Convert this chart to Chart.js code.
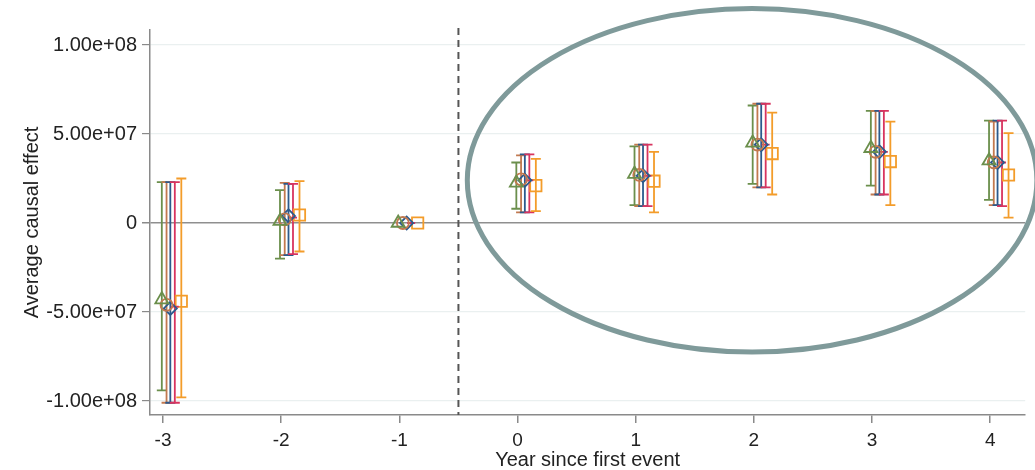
<!DOCTYPE html>
<html>
<head>
<meta charset="utf-8">
<script src="https://cdn.jsdelivr.net/npm/chart.js@4.4.1/dist/chart.umd.min.js"></script>
<style>
  html, body { margin: 0; padding: 0; background: #ffffff; }
  #wrap { width: 1035px; height: 470px; position: relative; }
</style>
</head>
<body>
<div id="wrap"><canvas id="c" width="1035" height="470"></canvas></div>
<script>
// ---- data ----
const years = [-3, -2, -1, 0, 1, 2, 3, 4];
const yTickValues = [-1e8, -5e7, 0, 5e7, 1e8];
const yTickLabels = ["-1.00e+08", "-5.00e+07", "0", "5.00e+07", "1.00e+08"];
const xTickLabels = ["-3", "-2", "-1", "0", "1", "2", "3", "4"];

const greenEst = [-4.3e7, 0.1e7, 0, 2.25e7, 2.75e7, 4.5e7, 4.2e7, 3.5e7];
const greenLo  = [-9.4e7, -2.0e7, 0, 0.8e7, 1.0e7, 2.2e7, 2.1e7, 1.3e7];
const greenHi  = [2.3e7, 1.85e7, 0, 3.4e7, 4.3e7, 6.6e7, 6.3e7, 5.75e7];

const brownEst = [-4.6e7, 0.2e7, 0, 2.45e7, 2.7e7, 4.4e7, 4.0e7, 3.4e7];
const brownLo  = [-1.01e8, -1.8e7, 0, 0.6e7, 0.95e7, 2.0e7, 1.6e7, 1.0e7];
const brownHi  = [2.3e7, 2.25e7, 0, 3.8e7, 4.4e7, 6.7e7, 6.3e7, 5.7e7];

const blueEst = [-4.8e7, 0.4e7, 0, 2.4e7, 2.65e7, 4.4e7, 4.0e7, 3.4e7];
const blueLo  = [-1.01e8, -1.8e7, 0, 0.6e7, 0.95e7, 2.0e7, 1.6e7, 1.0e7];
const blueHi  = [2.3e7, 2.2e7, 0, 3.85e7, 4.4e7, 6.7e7, 6.3e7, 5.75e7];

const redEst = [-4.7e7, 0.3e7, 0, 2.4e7, 2.65e7, 4.4e7, 4.0e7, 3.4e7];
const redLo  = [-1.01e8, -1.75e7, 0, 0.6e7, 0.95e7, 2.0e7, 1.6e7, 0.95e7];
const redHi  = [2.3e7, 2.2e7, 0, 3.85e7, 4.4e7, 6.7e7, 6.3e7, 5.75e7];

const orangeEst = [-4.4e7, 0.45e7, 0, 2.1e7, 2.35e7, 3.9e7, 3.45e7, 2.7e7];
const orangeLo  = [-9.8e7, -1.6e7, 0, 0.67e7, 0.6e7, 1.6e7, 1.0e7, 0.3e7];
const orangeHi  = [2.5e7, 2.35e7, 0, 3.6e7, 4.0e7, 6.2e7, 5.7e7, 5.05e7];

const treatmentCutoff = -0.5;
// highlight ellipse in data units: center x, center y, half-width (years), half-height (value)
const ellipseSpec = { cx: 1.985, cy: 2.4e7, rx: 2.41, ry: 9.65e7 };

// ---- styles ----
const FONT = "'Liberation Sans', Arial, sans-serif";
const seriesStyle = [
  { est: greenEst,  lo: greenLo,  hi: greenHi,  color: '#6b8f4c', shape: 'triangle', r: 7.5, off: -0.01 },
  { est: brownEst,  lo: brownLo,  hi: brownHi,  color: '#c2794f', shape: 'circle',   r: 6, off: 0.03 },
  { est: blueEst,   lo: blueLo,   hi: blueHi,   color: '#2c5a8c', shape: 'rectRot',  r: 6.5, off: 0.062 },
  { est: redEst,    lo: redLo,    hi: redHi,    color: '#d8345f', shape: 'line',     r: 4, off: 0.1 },
  { est: orangeEst, lo: orangeLo, hi: orangeHi, color: '#f39c2a', shape: 'rect',     r: 8, off: 0.155 },
];

const datasets = seriesStyle.map(s => ({
  data: years.map((yr, i) => ({ x: yr + s.off, y: s.est[i] })),
  pointStyle: s.shape,
  pointRadius: s.r,
  pointHoverRadius: s.r,
  pointBorderColor: s.color,
  pointBackgroundColor: 'rgba(0,0,0,0)',
  pointBorderWidth: 1.8,
  showLine: false,
  errLo: s.lo,
  errHi: s.hi,
  errColor: s.color,
  errOff: s.off,
}));

const errorBarPlugin = {
  id: 'errorBars',
  beforeDatasetsDraw(chart) {
    const { ctx, scales: { x, y } } = chart;
    ctx.save();
    chart.data.datasets.forEach(ds => {
      ctx.strokeStyle = ds.errColor;
      ctx.lineWidth = 1.8;
      years.forEach((yr, i) => {
        const lo = ds.errLo[i], hi = ds.errHi[i];
        if (lo === hi) return;
        const px = x.getPixelForValue(yr + ds.errOff);
        const pl = y.getPixelForValue(lo), ph = y.getPixelForValue(hi);
        const cap = 5;
        ctx.beginPath();
        ctx.moveTo(px, pl); ctx.lineTo(px, ph);
        ctx.moveTo(px - cap, pl); ctx.lineTo(px + cap, pl);
        ctx.moveTo(px - cap, ph); ctx.lineTo(px + cap, ph);
        ctx.stroke();
      });
    });
    // dashed treatment line
    const dx = x.getPixelForValue(treatmentCutoff);
    ctx.strokeStyle = '#555555';
    ctx.lineWidth = 2;
    ctx.setLineDash([7, 5]);
    ctx.beginPath();
    ctx.moveTo(dx, chart.chartArea.top - 2);
    ctx.lineTo(dx, chart.chartArea.bottom);
    ctx.stroke();
    ctx.restore();
  },
  afterDraw(chart) {
    const { ctx, scales: { x, y } } = chart;
    const cx = x.getPixelForValue(ellipseSpec.cx);
    const cy = y.getPixelForValue(ellipseSpec.cy);
    const rx = x.getPixelForValue(ellipseSpec.cx + ellipseSpec.rx) - cx;
    const ry = cy - y.getPixelForValue(ellipseSpec.cy + ellipseSpec.ry);
    ctx.save();
    ctx.strokeStyle = '#7f9a9a';
    ctx.lineWidth = 5;
    ctx.beginPath();
    ctx.ellipse(cx, cy, rx, ry, 0, 0, Math.PI * 2);
    ctx.stroke();
    ctx.restore();
  }
};

new Chart(document.getElementById('c'), {
  type: 'scatter',
  data: { datasets },
  plugins: [errorBarPlugin],
  options: {
    responsive: false,
    animation: false,
    layout: { padding: { top: 30, right: 0, left: 0, bottom: 0 } },
    plugins: { legend: { display: false }, tooltip: { enabled: false } },
    scales: {
      x: {
        type: 'linear',
        min: -3.11,
        max: 4.296,
        afterBuildTicks: s => { s.ticks = years.map(v => ({ value: v })); },
        afterFit: s => { s.height = 55; },
        ticks: {
          autoSkip: false,
          maxRotation: 0,
          padding: 6,
          color: '#222222',
          font: { family: FONT, size: 19 },
          callback: (v) => xTickLabels[years.indexOf(v)] ?? ''
        },
        grid: { drawOnChartArea: false, tickLength: 8, color: '#8a8a8a', lineWidth: 1.5 },
        border: { display: true, color: '#8a8a8a', width: 1.5 },
        title: {
          display: true,
          text: 'Year since first event',
          color: '#222222',
          font: { family: FONT, size: 20 },
          padding: { top: 0, bottom: -2 }
        }
      },
      y: {
        type: 'linear',
        min: -1.0787e8,
        max: 1.0843e8,
        afterBuildTicks: s => { s.ticks = yTickValues.map(v => ({ value: v })); },
        afterFit: s => { s.width = 150; },
        ticks: {
          padding: 5,
          color: '#222222',
          font: { family: FONT, size: 20 },
          callback: (v) => yTickLabels[yTickValues.indexOf(v)] ?? ''
        },
        grid: {
          tickLength: 8,
          color: ctx => (ctx.tick && ctx.tick.value === 0) ? '#8f8f8f' : '#eaf0f0',
          lineWidth: ctx => (ctx.tick && ctx.tick.value === 0) ? 1.5 : 1.2,
          tickColor: '#8a8a8a'
        },
        border: { display: true, color: '#8a8a8a', width: 1.5 },
        title: {
          display: true,
          text: 'Average causal effect',
          color: '#222222',
          font: { family: FONT, size: 20 },
          padding: { top: 20, bottom: 0 }
        }
      }
    }
  }
});
</script>
</body>
</html>
